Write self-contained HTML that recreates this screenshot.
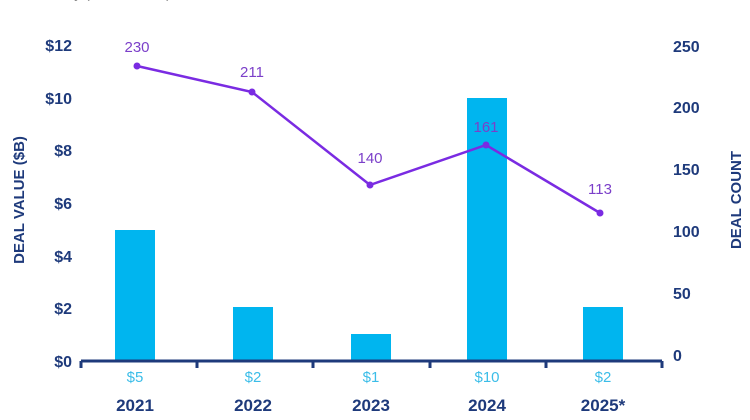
<!DOCTYPE html>
<html><head><style>body{margin:0;background:#fff}svg{display:block}text{font-family:"Liberation Sans",sans-serif}</style></head><body>
<svg width="750" height="420" viewBox="0 0 750 420">
<text x="5" y="-2" font-size="14" fill="#888">Deal Activity ($ and Count)</text>
<g fill="#1e3a7b" font-weight="bold" font-size="16" text-anchor="end">
<text x="72" y="51">$12</text><text x="72" y="104">$10</text><text x="72" y="156">$8</text>
<text x="72" y="209">$6</text><text x="72" y="262">$4</text><text x="72" y="314">$2</text><text x="72" y="367">$0</text>
</g>
<g fill="#1e3a7b" font-weight="bold" font-size="16" text-anchor="start">
<text x="673" y="52">250</text><text x="673" y="113">200</text><text x="673" y="175">150</text>
<text x="673" y="237">100</text><text x="673" y="299">50</text><text x="673" y="361">0</text>
</g>
<text transform="translate(24,200) rotate(-90)" fill="#1e3a7b" font-weight="bold" font-size="15" text-anchor="middle">DEAL VALUE ($B)</text>
<text transform="translate(741,200) rotate(-90)" fill="#1e3a7b" font-weight="bold" font-size="15" text-anchor="middle">DEAL COUNT</text>
<g fill="#00b5ef">
<rect x="115" y="230" width="40" height="131"/><rect x="233" y="307" width="40" height="54"/>
<rect x="351" y="334" width="40" height="27"/><rect x="467" y="98" width="40" height="263"/>
<rect x="583" y="307" width="40" height="54"/>
</g>
<g stroke="#1e3a7b" stroke-width="3" fill="none">
<line x1="81" y1="361" x2="662" y2="361"/>
<line x1="81" y1="361" x2="81" y2="368"/><line x1="197" y1="361" x2="197" y2="368"/>
<line x1="313" y1="361" x2="313" y2="368"/><line x1="430" y1="361" x2="430" y2="368"/>
<line x1="546" y1="361" x2="546" y2="368"/><line x1="662" y1="361" x2="662" y2="368"/>
</g>
<polyline points="137,66 252,92 370,185 486,145 600,213" fill="none" stroke="#7a2be2" stroke-width="2.5"/>
<g fill="#7a2be2"><circle cx="137" cy="66" r="3.5"/><circle cx="252" cy="92" r="3.5"/><circle cx="370" cy="185" r="3.5"/><circle cx="486" cy="145" r="3.5"/><circle cx="600" cy="213" r="3.5"/></g>
<g fill="#7b3fc9" font-size="15" text-anchor="middle">
<text x="137" y="52">230</text><text x="252" y="77">211</text><text x="370" y="163">140</text><text x="486" y="132">161</text><text x="600" y="194">113</text>
</g>
<g fill="#3bbde8" font-size="15" text-anchor="middle">
<text x="135" y="382">$5</text><text x="253" y="382">$2</text><text x="371" y="382">$1</text><text x="487" y="382">$10</text><text x="603" y="382">$2</text>
</g>
<g fill="#1e3a7b" font-weight="bold" font-size="17" text-anchor="middle">
<text x="135" y="411">2021</text><text x="253" y="411">2022</text><text x="371" y="411">2023</text><text x="487" y="411">2024</text><text x="603" y="411">2025*</text>
</g>
</svg>
</body></html>
